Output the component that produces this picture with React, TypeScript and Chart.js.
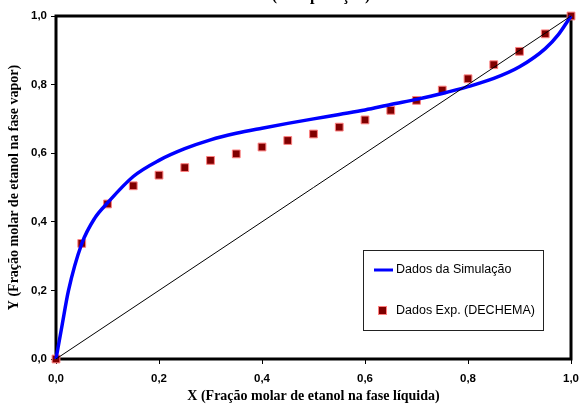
import React, { useEffect, useRef } from "react";
import { Chart, registerables } from "chart.js";

Chart.register(...registerables);

// Experimental data (DECHEMA)
const expX = [0, 0.05, 0.1, 0.15, 0.2, 0.25, 0.3, 0.35, 0.4, 0.45, 0.5, 0.55, 0.6, 0.65, 0.7, 0.75, 0.8, 0.85, 0.9, 0.95, 1.0];
const expY = [0, 0.337, 0.452, 0.505, 0.536, 0.558, 0.579, 0.598, 0.618, 0.637, 0.656, 0.676, 0.697, 0.725, 0.754, 0.784, 0.817, 0.858, 0.897, 0.948, 1.0];

// Simulation curve samples
const simX = [0, 0.012, 0.024, 0.05, 0.075, 0.1, 0.15, 0.2, 0.25, 0.3, 0.35, 0.4, 0.45, 0.5, 0.55, 0.6, 0.65, 0.7, 0.75, 0.8, 0.85, 0.9, 0.95, 0.975, 1.0];
const simY = [0, 0.1, 0.198, 0.336, 0.41, 0.455, 0.532, 0.579, 0.613, 0.639, 0.658, 0.673, 0.687, 0.7, 0.713, 0.726, 0.742, 0.757, 0.774, 0.794, 0.818, 0.852, 0.905, 0.945, 1.0];

// Diagonal y = x
const diagX = [0, 1];
const diagY = [0, 1];

const xTicks = [0, 0.2, 0.4, 0.6, 0.8, 1.0];
const yTicks = [0, 0.2, 0.4, 0.6, 0.8, 1.0];

const titleText = "(Comparação)";
const xTitle = "X (Fração molar de etanol na fase líquida)";
const yTitle = "Y (Fração molar de etanol na fase vapor)";
const simLabel = "Dados da Simulação";
const expLabel = "Dados Exp. (DECHEMA)";

const SANS = "'Liberation Sans', Arial, sans-serif";
const SERIF = "'Liberation Serif', 'Times New Roman', serif";

const fmt = (v: number) => v.toFixed(1).replace(".", ",");

const boxPlugin = {
  id: "boxPlugin",
  beforeDatasetsDraw(chart: any) {
    const { ctx, chartArea } = chart;
    ctx.save();
    ctx.strokeStyle = "#000";
    ctx.lineWidth = 3;
    ctx.strokeRect(chartArea.left, chartArea.top, chartArea.right - chartArea.left, chartArea.bottom - chartArea.top);
    ctx.restore();
  },
  afterDraw(chart: any) {
    const { ctx } = chart;
    ctx.save();
    // clipped title at very top
    ctx.fillStyle = "#000";
    ctx.font = `bold 16px ${SERIF}`;
    ctx.textAlign = "center";
    ctx.textBaseline = "alphabetic";
    ctx.fillText(titleText, 321, 0);

    // legend box
    const lx = 363, ly = 250, lw = 180, lh = 80;
    ctx.fillStyle = "#fff";
    ctx.fillRect(lx, ly, lw, lh);
    ctx.strokeStyle = "#222";
    ctx.lineWidth = 1;
    ctx.strokeRect(lx + 0.5, ly + 0.5, lw, lh);

    const sim = chart.data.datasets[1];
    const exp = chart.data.datasets[2];
    ctx.strokeStyle = sim.borderColor;
    ctx.lineWidth = 3;
    ctx.beginPath();
    ctx.moveTo(374, 270);
    ctx.lineTo(393, 270);
    ctx.stroke();

    ctx.fillStyle = exp.backgroundColor;
    ctx.strokeStyle = exp.borderColor;
    ctx.lineWidth = 1;
    ctx.fillRect(379, 307, 7, 7);
    ctx.strokeRect(378.5, 306.5, 8, 8);

    ctx.fillStyle = "#000";
    ctx.font = `12.5px ${SANS}`;
    ctx.textAlign = "left";
    ctx.textBaseline = "middle";
    ctx.fillText(sim.label, 396, 270);
    ctx.fillText(exp.label, 396, 310.5);
    ctx.restore();
  },
};

export default function App() {
  const ref = useRef<HTMLCanvasElement>(null);

  useEffect(() => {
    if (!ref.current) return;
    const chart = new Chart(ref.current, {
      type: "scatter",
      data: {
        datasets: [
          {
            label: "y = x",
            data: diagX.map((x, i) => ({ x, y: diagY[i] })),
            showLine: true,
            borderColor: "#000",
            borderWidth: 1,
            pointRadius: 0,
            clip: false as any,
          },
          {
            label: simLabel,
            data: simX.map((x, i) => ({ x, y: simY[i] })),
            showLine: true,
            borderColor: "#0000FF",
            borderWidth: 3.5,
            pointRadius: 0,
            cubicInterpolationMode: "monotone",
            clip: false as any,
          },
          {
            label: expLabel,
            data: expX.map((x, i) => ({ x, y: expY[i] })),
            showLine: false,
            pointStyle: "rect",
            pointRadius: 5.5,
            backgroundColor: "#800000",
            borderColor: "#FF8080",
            borderWidth: 1,
            clip: false as any,
          },
        ],
      },
      options: {
        animation: false,
        responsive: false,
        layout: { padding: { top: 16, right: 7, left: 0, bottom: 0 } },
        plugins: { legend: { display: false }, tooltip: { enabled: false }, title: { display: false } },
        scales: {
          x: {
            type: "linear",
            min: 0,
            max: 1,
            afterBuildTicks: (s: any) => { s.ticks = xTicks.map((v) => ({ value: v })); },
            afterFit: (s: any) => { s.height = 51; },
            ticks: { callback: (v: any) => fmt(Number(v)), color: "#000", font: { family: SANS, size: 11.5, weight: "bold" }, padding: 8, maxRotation: 0 },
            grid: { drawOnChartArea: false, drawTicks: true, tickLength: 5, color: "#000", lineWidth: 1 },
            border: { display: false },
            title: { display: true, text: xTitle, color: "#000", font: { family: SERIF, size: 14, weight: "bold" }, padding: { top: 0, bottom: 5 } },
          },
          y: {
            type: "linear",
            min: 0,
            max: 1,
            afterBuildTicks: (s: any) => { s.ticks = yTicks.map((v) => ({ value: v })); },
            afterFit: (s: any) => { s.width = 56; },
            ticks: { callback: (v: any) => fmt(Number(v)), color: "#000", font: { family: SANS, size: 11.5, weight: "bold" }, padding: 4 },
            grid: { drawOnChartArea: false, drawTicks: true, tickLength: 5, color: "#000", lineWidth: 1 },
            border: { display: false },
            title: { display: true, text: yTitle, color: "#000", font: { family: SERIF, size: 14, weight: "bold" }, padding: { top: 6, bottom: 0 } },
          },
        },
      } as any,
      plugins: [boxPlugin],
    });
    return () => chart.destroy();
  }, []);

  return (
    <div style={{ position: "absolute", left: 0, top: 0, width: 587, height: 410, background: "#fff" }}>
      <canvas ref={ref} width={587} height={410} style={{ width: 587, height: 410, display: "block" }} />
    </div>
  );
}
